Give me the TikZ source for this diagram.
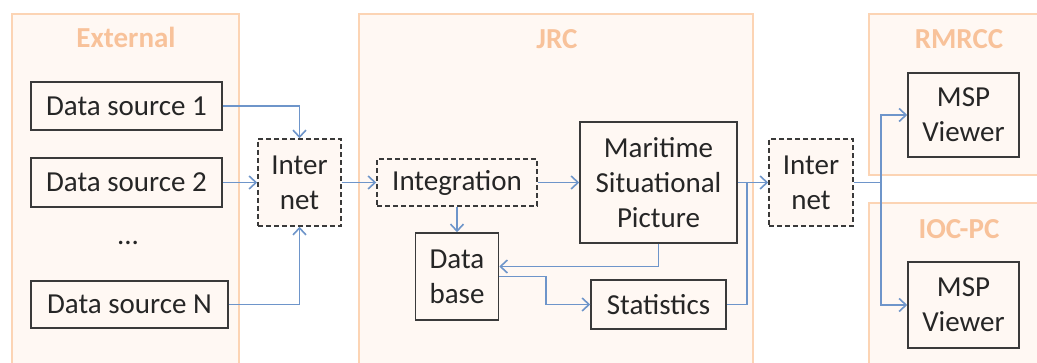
\documentclass[tikz,border=0pt]{standalone}
\usepackage{fontspec}
\setmainfont{Carlito}
\usetikzlibrary{arrows.meta}
\definecolor{panelline}{HTML}{FCD4B4}
\definecolor{panelfill}{HTML}{FFF8F3}
\definecolor{paneltext}{HTML}{F8C29A}
\definecolor{boxline}{HTML}{3A3A3A}
\definecolor{flow}{HTML}{6E95CA}
\tikzset{
  panel/.style={draw=panelline, line width=2.4pt, fill=panelfill},
  paneltitle/.style={text=paneltext, font=\fontsize{29}{35}\selectfont\bfseries, anchor=base},
  block/.style={draw=boxline, line width=1.5pt, fill=panelfill, inner sep=0pt, align=center,
    text=black!85, font=\fontsize{29}{35}\selectfont},
  cloudbox/.style={block, dashed, dash pattern=on 5pt off 3pt},
  flowline/.style={draw=flow, line width=1.7pt},
  flowarr/.style={flowline, -{Straight Barb[length=7pt,width=13pt,line width=1.6pt]}}
}
\begin{document}
\begin{tikzpicture}[x=1pt,y=-1pt]
\useasboundingbox (0,0) rectangle (1037,363);
\fill[white] (0,0) rectangle (1037,363);
% panels
\draw[panel] (12,14) rectangle (239,380);
\draw[panel] (359,14) rectangle (753,380);
\draw[panel] (869,14) rectangle (1050,175);
\draw[panel] (869,203) rectangle (1050,380);
\node[paneltitle] (tExt) at (126,48) {External};
\node[paneltitle] (tJrc) at (557,49) {JRC};
\node[paneltitle] (tRm) at (959,49) {RMRCC};
\node[paneltitle] (tIoc) at (959,239) {IOC-PC};
% external sources
\node[block, minimum width=191pt, minimum height=48pt] (ds1) at (126.5,106) {Data source 1};
\node[block, minimum width=191pt, minimum height=49pt] (ds2) at (126.5,182.5) {Data source 2};
\node[text=black!85, font=\fontsize{29}{35}\selectfont] (dots) at (128,243) {...};
\node[block, minimum width=197pt, minimum height=47pt] (dsN) at (129.5,304.5) {Data source N};
\node[cloudbox, minimum width=83pt, minimum height=87pt] (net1) at (299.5,182.5) {Inter\\net};
% JRC
\node[cloudbox, minimum width=160pt, minimum height=47pt] (integ) at (457,182.5) {Integration};
\node[block, minimum width=157pt, minimum height=121pt] (msp) at (658.5,182.5) {Maritime\\Situational\\Picture};
\node[block, minimum width=83pt, minimum height=87pt] (db) at (457,276.5) {Data\\base};
\node[block, minimum width=135pt, minimum height=49pt] (stats) at (658.5,304.5) {Statistics};
% output side
\node[cloudbox, minimum width=84pt, minimum height=87pt] (net2) at (811,182.5) {Inter\\net};
\node[block, minimum width=111pt, minimum height=84pt] (v1) at (963.5,115) {MSP\\Viewer};
\node[block, minimum width=111pt, minimum height=86pt] (v2) at (963.5,305) {MSP\\Viewer};
\coordinate (jn) at (747,182.5);
\coordinate (sp) at (881,182.5);
% connectors
\draw[flowarr] (ds1.east) -| (net1.north);
\draw[flowarr] (ds2.east) -- (net1.west);
\draw[flowarr] (dsN.east) -| (net1.south);
\draw[flowarr] (net1.east) -- (integ.west);
\draw[flowarr] (integ.east) -- (msp.west);
\draw[flowarr] (integ.south) -- (db.north);
\draw[flowarr] (msp.south) |- ([yshift=10pt]db.east);
\draw[flowarr] (db.east) -- ++(47,0) |- (stats.west);
\draw[flowline] (stats.east) -| (jn);
\draw[flowarr] (msp.east) -- (net2.west);
\draw[flowline] (net2.east) -- (sp);
\draw[flowarr] (sp) |- (v1.west);
\draw[flowarr] (sp) |- (v2.west);
\end{tikzpicture}
\end{document}
